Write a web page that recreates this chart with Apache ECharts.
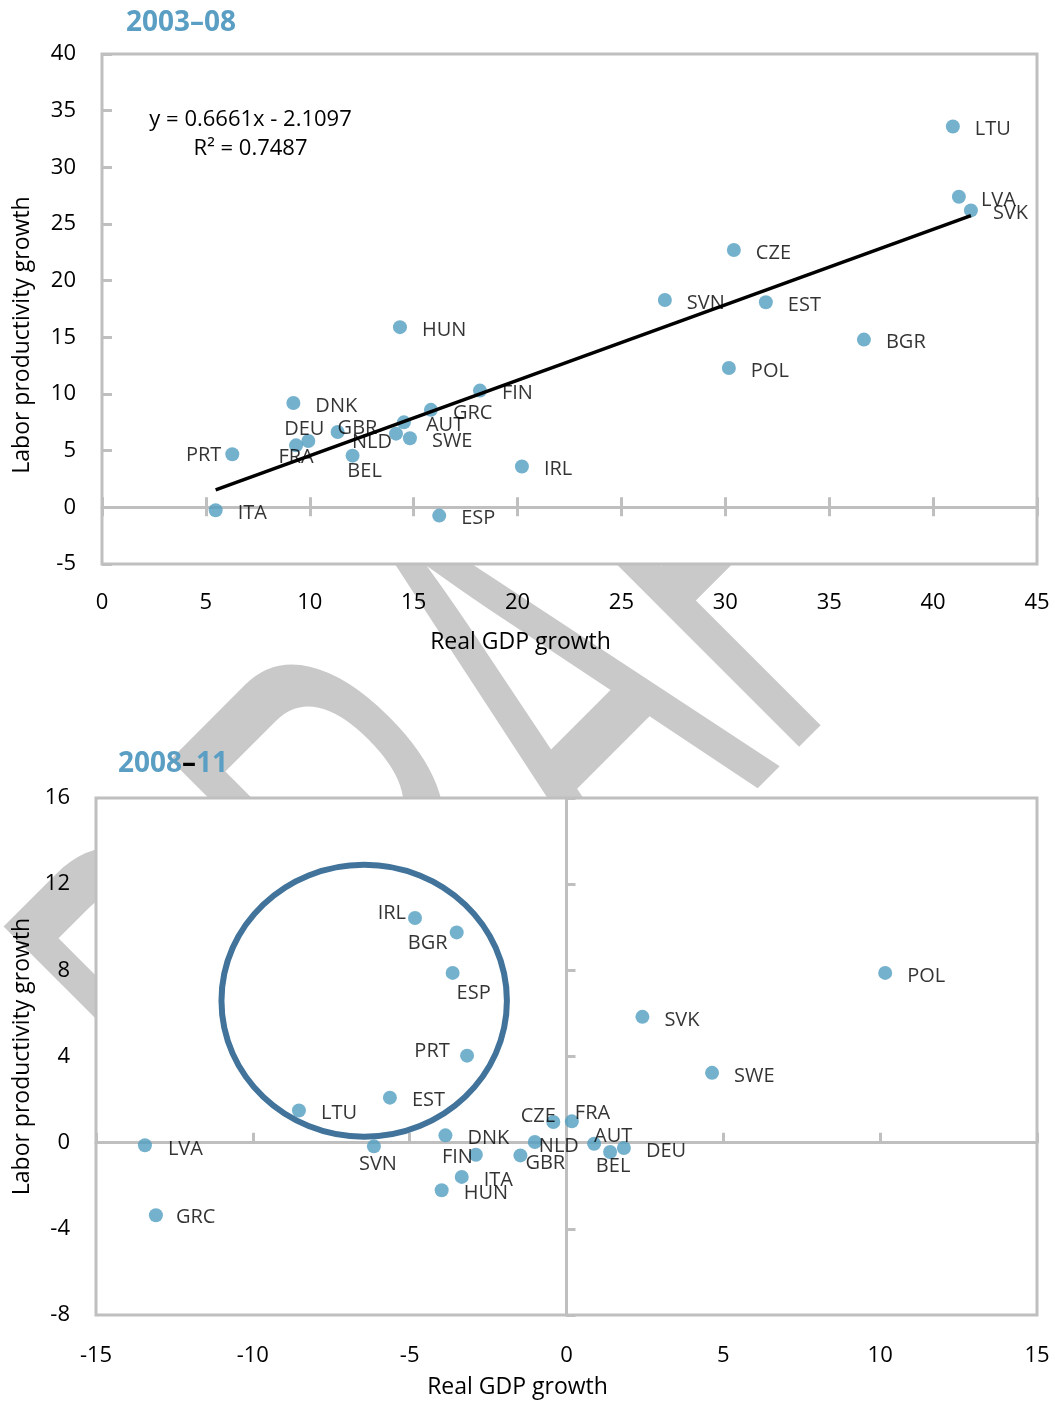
<!DOCTYPE html>
<html><head><meta charset="utf-8">
<script src="https://cdn.jsdelivr.net/npm/echarts@6.0.0/dist/echarts.min.js"></script>
<style>html,body{margin:0;padding:0;background:#fff}#c{width:1055px;height:1401px}</style>
</head><body><div id="c"></div>
<script>
// ---------- data: 2003–08 ----------
const topCountries = ['LTU','LVA','SVK','CZE','SVN','EST','BGR','POL','HUN','FIN','GRC','AUT','SWE','NLD','DNK','DEU','FRA','GBR','BEL','PRT','ITA','ESP','IRL'];
const topGdpGrowth = [40.95,41.24,41.82,30.41,27.09,31.95,36.67,30.17,14.34,18.19,15.83,14.53,14.82,14.15,9.21,9.93,9.34,11.34,12.06,6.27,5.47,16.23,20.21];
const topProdGrowth = [33.6,27.4,26.2,22.7,18.3,18.1,14.8,12.3,15.9,10.3,8.6,7.5,6.1,6.5,9.2,5.85,5.47,6.65,4.56,4.68,-0.26,-0.73,3.6];
const trendSlope = 0.6661;
const trendIntercept = -2.1097;
const trendR2 = 0.7487;

// ---------- data: 2008–11 ----------
const botCountries = ['IRL','BGR','ESP','PRT','EST','LTU','LVA','GRC','SVN','DNK','FIN','ITA','HUN','GBR','NLD','CZE','FRA','AUT','BEL','DEU','SVK','SWE','POL'];
const botGdpGrowth = [-4.83,-3.50,-3.63,-3.17,-5.63,-8.53,-13.44,-13.09,-6.14,-3.86,-2.89,-3.34,-3.98,-1.47,-1.01,-0.42,0.17,0.88,1.39,1.83,2.42,4.64,10.16];
const botProdGrowth = [10.43,9.76,7.88,4.04,2.09,1.49,-0.12,-3.37,-0.17,0.34,-0.56,-1.59,-2.21,-0.59,0.03,0.96,0.99,-0.05,-0.43,-0.25,5.84,3.24,7.88];

// ---------- axis / text ----------
const topXTicks = {min:0, max:45, interval:5};
const topYTicks = {min:-5, max:40, interval:5};
const botXTicks = {min:-15, max:15, interval:5};
const botYTicks = {min:-8, max:16, interval:4};
const xAxisTitle = 'Real GDP growth';
const yAxisTitle = 'Labor productivity growth';
const topTitle = '2003–08';
const botTitleParts = ['2008','–','11'];
const watermarkText = 'DRAFT';
// highlighted group (data units) for the ellipse annotation
const highlightBox = {xMin:-11.0, xMax:-1.9, yMin:0.28, yMax:12.9};

// ---------- styles ----------
const FONT = 'Open Sans';
const DOT = '#519dc0';
const BLUE = '#5a9ec4';
const FRAME = '#bfbfbf';

// label placements: [align, dx, dy] relative to point center
const topLabelPlace = {
  NLD:['right',-4,9], DEU:['center',-4,-12], FRA:['center',0,12], GBR:['left',0,-4],
  BEL:['center',12,16], PRT:['right',-11,1]
};
const botLabelPlace = {
  IRL:['right',-9,-5], BGR:['center',-29,11], ESP:['center',21,20], PRT:['center',-35,-4],
  LVA:['left',23,4], GRC:['left',20,2], SVN:['center',4,18], FIN:['right',-3,3],
  GBR:['left',5,8], NLD:['left',4,4], CZE:['center',-15,-6], FRA:['left',3,-8],
  AUT:['left',0,-7], BEL:['center',3,14]
};

function buildPoints(names, xs, ys, place){
  return names.map((n,i)=>{
    const p = place[n] || ['left',22,3];
    return {name:n, value:[xs[i], ys[i]],
      label:{show:true, position:'inside', formatter:n, align:p[0], verticalAlign:'middle',
             offset:[p[1],p[2]], color:'#000', fontSize:20, fontFamily:FONT}};
  });
}

const xMinT = Math.min(...topGdpGrowth), xMaxT = Math.max(...topGdpGrowth);
const trendData = [[xMinT, trendSlope*xMinT+trendIntercept],[xMaxT, trendSlope*xMaxT+trendIntercept]];

const tickLabel = {color:'#000', fontSize:22, fontFamily:FONT};
const lineSt = {color:FRAME, width:3};
const nameSt = {color:'#000', fontSize:23, fontFamily:FONT};

const option = {
  backgroundColor:'#fff',
  animation:false,
  title:[
    {text:topTitle, left:121, top:4, textStyle:{color:BLUE, fontSize:28, fontWeight:'bold', fontFamily:FONT}},
    {text:'{b|'+botTitleParts[0]+'}{k|'+botTitleParts[1]+'}{b|'+botTitleParts[2]+'}', left:113, top:745,
     textStyle:{rich:{b:{color:BLUE, fontSize:28, fontWeight:'bold', fontFamily:FONT},
                      k:{color:'#000', fontSize:28, fontWeight:'bold', fontFamily:FONT}}}}
  ],
  grid:[
    {left:102, top:54, width:935, height:510, show:true, backgroundColor:'#fff', borderColor:FRAME, borderWidth:3, containLabel:false, outerBoundsMode:'none'},
    {left:96, top:798, width:941, height:517, show:true, backgroundColor:'#fff', borderColor:FRAME, borderWidth:3, containLabel:false, outerBoundsMode:'none'}
  ],
  xAxis:[
    {gridIndex:0, type:'value', ...topXTicks, position:'bottom', z:2, axisLine:{show:false, onZero:false}, axisTick:{show:false},
     splitLine:{show:false}, axisLabel:{...tickLabel, margin:28},
     name:xAxisTitle, nameLocation:'middle', nameGap:67, nameTextStyle:{...nameSt, padding:[0,98,0,0]}},
    {gridIndex:0, type:'value', ...topXTicks, position:'bottom', z:2, axisLine:{show:true, onZero:true, onZeroAxisIndex:0, lineStyle:lineSt},
     axisTick:{show:true, inside:false, length:9, lineStyle:lineSt}, axisLabel:{show:false}, splitLine:{show:false}},
    {gridIndex:0, type:'value', ...topXTicks, position:'top', z:2, axisLine:{show:false, onZero:true, onZeroAxisIndex:0, lineStyle:lineSt},
     axisTick:{show:true, inside:false, length:10, lineStyle:lineSt}, axisLabel:{show:false}, splitLine:{show:false}},
    {gridIndex:1, type:'value', ...botXTicks, position:'bottom', z:2, axisLine:{show:false, onZero:false}, axisTick:{show:false},
     splitLine:{show:false}, axisLabel:{...tickLabel, margin:30},
     name:xAxisTitle, nameLocation:'middle', nameGap:61, nameTextStyle:{...nameSt, padding:[0,98,0,0]}},
    {gridIndex:1, type:'value', ...botXTicks, position:'bottom', z:2, axisLine:{show:true, onZero:true, onZeroAxisIndex:1, lineStyle:lineSt},
     axisTick:{show:true, inside:true, length:10, lineStyle:lineSt}, axisLabel:{show:false}, splitLine:{show:false}}
  ],
  yAxis:[
    {gridIndex:0, type:'value', ...topYTicks, position:'left', z:2, axisLine:{show:false, onZero:false},
     axisTick:{show:true, inside:true, length:10, lineStyle:lineSt}, splitLine:{show:false}, axisLabel:{...tickLabel, margin:26},
     name:yAxisTitle, nameLocation:'middle', nameGap:68, nameTextStyle:{...nameSt, padding:[0,52,0,0]}},
    {gridIndex:1, type:'value', ...botYTicks, position:'left', z:2, axisLine:{show:false, onZero:false},
     axisTick:{show:false}, splitLine:{show:false}, axisLabel:{...tickLabel, margin:26},
     name:yAxisTitle, nameLocation:'middle', nameGap:62, nameTextStyle:nameSt},
    {gridIndex:1, type:'value', ...botYTicks, position:'left', z:2, axisLine:{show:true, onZero:true, onZeroAxisIndex:3, lineStyle:lineSt},
     axisTick:{show:true, inside:true, length:9, lineStyle:lineSt}, axisLabel:{show:false}, splitLine:{show:false}}
  ],
  series:[
    {type:'scatter', xAxisIndex:0, yAxisIndex:0, symbolSize:14, itemStyle:{color:DOT}, z:5,
     data:buildPoints(topCountries, topGdpGrowth, topProdGrowth, topLabelPlace)},
    {type:'line', xAxisIndex:0, yAxisIndex:0, data:trendData, showSymbol:false, symbol:'none', z:6,
     lineStyle:{color:'#000', width:3.5}, silent:true},
    {type:'scatter', xAxisIndex:3, yAxisIndex:1, symbolSize:14, itemStyle:{color:DOT}, z:5,
     data:buildPoints(botCountries, botGdpGrowth, botProdGrowth, botLabelPlace)}
  ]
};

const chart = echarts.init(document.getElementById('c'));
chart.setOption(option);

const p1 = chart.convertToPixel({xAxisIndex:3, yAxisIndex:1}, [highlightBox.xMin, highlightBox.yMax]);
const p2 = chart.convertToPixel({xAxisIndex:3, yAxisIndex:1}, [highlightBox.xMax, highlightBox.yMin]);
const eqPos = chart.convertToPixel({xAxisIndex:0, yAxisIndex:0}, [7.15, 35.5]);

chart.setOption({
  graphic:{elements:[
    {type:'text', id:'watermark', x:554, y:745, rotation:Math.PI/4, scaleX:0.516, scaleY:1, z:-100, silent:true,
     style:{text:watermarkText, fill:'#c9c9c9', font:'633px "Liberation Sans"', align:'center', verticalAlign:'middle'}},
    {type:'ellipse', id:'ring', z:50, silent:true,
     shape:{cx:(p1[0]+p2[0])/2, cy:(p1[1]+p2[1])/2, rx:Math.abs(p2[0]-p1[0])/2, ry:Math.abs(p2[1]-p1[1])/2},
     style:{fill:'none', stroke:'#41739b', lineWidth:6}},
    {type:'text', id:'eq', x:eqPos[0], y:eqPos[1], z:50, silent:true,
     style:{text:'y = '+trendSlope.toFixed(4)+'x - '+Math.abs(trendIntercept).toFixed(4)+'\nR² = '+trendR2.toFixed(4),
            fill:'#000', font:'22px "'+FONT+'"', align:'center', verticalAlign:'top', lineHeight:29}}
  ]}
});
</script></body></html>
